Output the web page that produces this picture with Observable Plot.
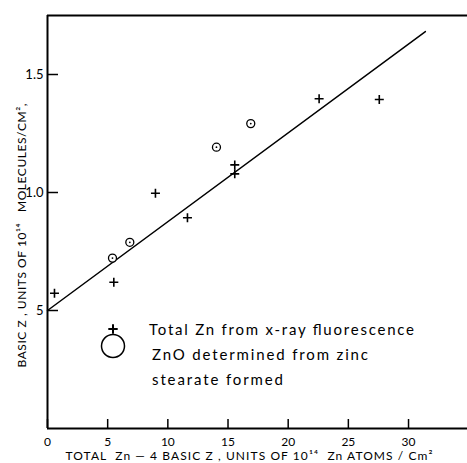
<!DOCTYPE html>
<html>
<head>
<meta charset="utf-8">
<script src="https://cdn.jsdelivr.net/npm/d3@7"></script>
<script src="https://cdn.jsdelivr.net/npm/@observablehq/plot@0.6"></script>
<style>
  html, body { margin: 0; padding: 0; background: #fff; }
  #chart { width: 467px; height: 463px; }
</style>
</head>
<body>
<div id="chart"></div>
<script>
// ---- data ----
const crossX = [0.58, 5.51, 8.97, 11.63, 15.56, 15.56, 22.57, 27.57];
const crossY = [0.573, 0.62, 0.997, 0.893, 1.117, 1.079, 1.397, 1.394];
const circleX = [5.40, 6.84, 14.04, 16.89];
const circleY = [0.722, 0.789, 1.192, 1.292];
const fitX = [0, 31.4];
const fitY = [0.5, 1.682];
const xTicks = [0, 5, 10, 15, 20, 25, 30];
const xTickLabels = ["0", "5", "10", "15", "20", "25", "30"];
const yTicks = [0.5, 1.0, 1.5];
const yTickLabels = ["5", "1.0", "1.5"];
const xDomain = [0, 34.9];
const yDomain = [0, 1.75];
const xTitle = "TOTAL\u00a0 Zn \u2014 4 BASIC Z , UNITS OF 10\u00b9\u2074\u00a0 Zn ATOMS / Cm\u00b2";
const yTitle = "BASIC Z , UNITS OF 10\u00b9\u2074\u00a0\u00a0 MOLECULES/CM\u00b2,";
const legendLines1 = ["Total Zn from x-ray fluorescence"];
const legendLines2 = ["ZnO determined from zinc", "stearate formed"];

// ---- layout ----
const W = 467, H = 463;
const mL = 47, mR = 0, mT = 15, mB = 35;
const FONT = "Lato, 'DejaVu Sans', sans-serif";

const crosses = crossX.map((x, i) => ({x, y: crossY[i]}));
const circles = circleX.map((x, i) => ({x, y: circleY[i]}));
const fit = fitX.map((x, i) => ({x, y: fitY[i]}));

const thinCross = {
  draw(ctx, size) {
    const h = Math.sqrt(size / Math.PI);
    ctx.moveTo(-h, 0); ctx.lineTo(h, 0);
    ctx.moveTo(0, -h); ctx.lineTo(0, h);
  }
};

const chart = Plot.plot({
  width: W, height: H,
  marginLeft: mL, marginRight: mR, marginTop: mT, marginBottom: mB,
  style: {fontFamily: FONT, background: "white", color: "black"},
  x: {domain: xDomain},
  y: {domain: yDomain},
  marks: [
    Plot.ruleX([xDomain[0]], {strokeWidth: 2}),
    Plot.ruleY([yDomain[0]], {strokeWidth: 2}),
    Plot.ruleY([yDomain[1]], {strokeWidth: 2}),
    Plot.tickY(yTicks, {y: d => d, insetRight: (W - mL - mR) - 11, strokeWidth: 1.5}),
    Plot.tickX(xTicks, {x: d => d, insetTop: (H - mT - mB) - 9, strokeWidth: 1.5}),
    Plot.axisY(yTicks, {tickSize: 0, tickPadding: 4, fontSize: 13, label: null,
      tickFormat: d => yTickLabels[yTicks.indexOf(d)]}),
    Plot.axisX(xTicks, {tickSize: 0, tickPadding: 9, fontSize: 12, label: null,
      tickFormat: d => xTickLabels[xTicks.indexOf(d)]}),
    Plot.line(fit, {x: "x", y: "y", stroke: "black", strokeWidth: 1.5}),
    Plot.dot(crosses, {x: "x", y: "y", symbol: thinCross, r: 4.5, stroke: "black", fill: "none", strokeWidth: 1.6}),
    Plot.dot(circles, {x: "x", y: "y", r: 4, stroke: "black", fill: "white", strokeWidth: 1.3}),
    Plot.dot(circles, {x: "x", y: "y", r: 0.9, fill: "black", stroke: "none"}),
    Plot.text([xTitle], {text: d => d, frameAnchor: "bottom-left", textAnchor: "start", dx: 18, dy: 31, fontSize: 12}),
    Plot.text([yTitle], {text: d => d, frameAnchor: "bottom-left", textAnchor: "start", rotate: -90, dx: -22, dy: -61, fontSize: 12})
  ]
});

document.getElementById("chart").appendChild(chart);

const svg = d3.select(chart);
svg.selectAll("text").each(function() {
  const t = this.textContent;
  if (t === xTitle) d3.select(this).attr("textLength", 367).attr("lengthAdjust", "spacing");
  if (t === yTitle) d3.select(this).attr("textLength", 264).attr("lengthAdjust", "spacing");
});

// ---- legend (inside plot, lower left) ----
const lg = svg.append("g").attr("font-family", FONT).attr("font-size", 15).attr("fill", "black").attr("text-anchor", "start");
lg.append("path").attr("d", "M108.3,329H117.7M113,324.3V333.7").attr("stroke", "black").attr("stroke-width", 2).attr("fill", "none");
lg.append("circle").attr("cx", 113).attr("cy", 346).attr("r", 11.5).attr("stroke", "black").attr("stroke-width", 1.5).attr("fill", "none");
const legendRows = [
  {text: legendLines1[0], x: 149, y: 334.5, len: 265},
  {text: legendLines2[0], x: 152, y: 360, len: 216},
  {text: legendLines2[1], x: 152, y: 385, len: 131}
];
legendRows.forEach(r => {
  lg.append("text").attr("x", r.x).attr("y", r.y).attr("textLength", r.len).attr("lengthAdjust", "spacing").text(r.text);
});
</script>
</body>
</html>
